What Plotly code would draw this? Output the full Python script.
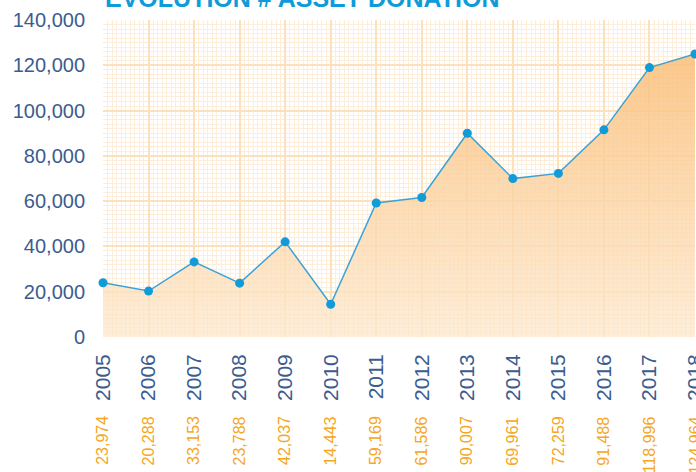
import plotly.graph_objects as go

years = [2005, 2006, 2007, 2008, 2009, 2010, 2011, 2012, 2013, 2014, 2015, 2016, 2017, 2018]
donations = [23974, 20288, 33153, 23788, 42037, 14443, 59169, 61586, 90007, 69961, 72259, 91488, 118996, 124964]
y_ticks = [0, 20000, 40000, 60000, 80000, 100000, 120000, 140000]
title_text = "EVOLUTION # ASSET DONATION"

fig = go.Figure()
fig.add_trace(go.Scatter(
    x=years, y=donations, mode="lines+markers",
    line=dict(color="#3aa3d6", width=1.5),
    marker=dict(color="#119bd8", size=9),
    fill="tozeroy",
    fillgradient=dict(type="vertical", colorscale=[[0, "rgba(253,232,205,0.75)"], [1, "rgba(250,190,120,0.85)"]]),
    cliponaxis=False, showlegend=False,
))

for yr, v in zip(years, donations):
    fig.add_annotation(x=yr, xref="x", y=-0.244, yref="paper", text=f"{v:,}",
                       textangle=-90, showarrow=False, xanchor="center", yanchor="top",
                       font=dict(family="Liberation Sans, Arial", size=16, color="#f5a623"))

fig.add_annotation(x=0, xref="paper", y=1.02, yref="paper", text=f"<b>{title_text}</b>",
                   showarrow=False, xanchor="left", yanchor="bottom",
                   font=dict(family="Liberation Sans, Arial", size=25, color="#0f9bd9"))

fig.update_layout(
    width=696, height=472,
    margin=dict(l=103, r=1, t=20, b=135, autoexpand=False),
    paper_bgcolor="white", plot_bgcolor="white",
    font=dict(family="Liberation Sans, Arial", color="#3b5c8e"),
    xaxis=dict(range=[2005, 2018], tickmode="array", tickvals=years, ticktext=[str(y) for y in years],
               tickangle=-90, tickfont=dict(size=21, color="#3b5c8e"), ticklabelstandoff=12,
               ticklabeloverflow="allow", automargin=False,
               showgrid=True, gridcolor="#fde1bd", gridwidth=1.5, zeroline=False, showline=False,
               minor=dict(dtick=0.1, showgrid=True, gridcolor="#fdeedc", gridwidth=1)),
    yaxis=dict(range=[0, 140000], tickmode="array", tickvals=y_ticks, ticktext=[f"{t:,}" for t in y_ticks],
               tickfont=dict(size=20, color="#3b5c8e"), ticklabelstandoff=17, automargin=False,
               showgrid=True, gridcolor="#fde1bd", gridwidth=1.5, zeroline=False, showline=False,
               minor=dict(dtick=2000, showgrid=True, gridcolor="#fdeedc", gridwidth=1)),
)

fig.write_html("out.html")
